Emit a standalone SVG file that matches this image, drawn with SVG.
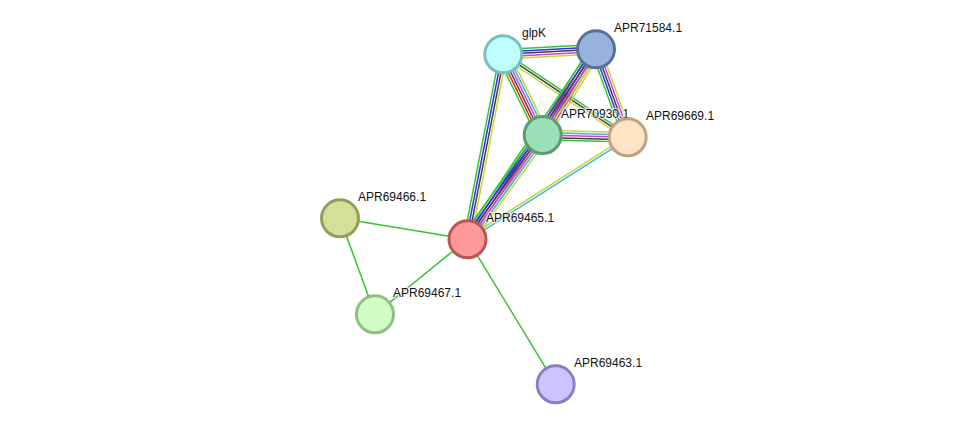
<svg xmlns="http://www.w3.org/2000/svg" width="975" height="430" viewBox="0 0 975 430">
<style>
line{stroke-width:1.5;fill:none}
.g{stroke:#35c435}.r{stroke:#ee2222}.b{stroke:#2f2ff0}.k{stroke:#404040}.m{stroke:#d43fd4}.c{stroke:#3fb6df}.y{stroke:#c3d83c}
.node circle{stroke-width:3}
text{font-family:"Liberation Sans",Arial,sans-serif;font-size:12px;fill:#111;stroke:#fff;stroke-width:2.5;stroke-opacity:0.7;paint-order:stroke;stroke-linejoin:round}
</style>
<rect width="975" height="430" fill="#fff"/>
<g id="connectors">
<g transform="translate(503.3,54.3) rotate(-3.09)">
<line class="g" x1="0" y1="-4.8" x2="92.8" y2="-4.8"/><line class="b" x1="0" y1="-2.4" x2="92.8" y2="-2.4"/><line class="k" x1="0" y1="0" x2="92.8" y2="0"/><line class="m" x1="0" y1="2.4" x2="92.8" y2="2.4"/><line class="y" x1="0" y1="4.8" x2="92.8" y2="4.8"/>
</g>
<g transform="translate(503.3,54.3) rotate(63.97)">
<line class="y" x1="0" y1="-6" x2="89.8" y2="-6"/><line class="c" x1="0" y1="-3.6" x2="89.8" y2="-3.6"/><line class="m" x1="0" y1="-1.2" x2="89.8" y2="-1.2"/><line class="k" x1="0" y1="1.2" x2="89.8" y2="1.2"/><line class="r" x1="0" y1="3.6" x2="89.8" y2="3.6"/><line class="g" x1="0" y1="6" x2="89.8" y2="6"/>
</g>
<g transform="translate(503.3,54.3) rotate(33.71)">
<line class="g" x1="0" y1="-2.4" x2="149.5" y2="-2.4"/><line class="k" x1="0" y1="0" x2="149.5" y2="0"/><line class="y" x1="0" y1="2.4" x2="149.5" y2="2.4"/>
</g>
<g transform="translate(503.3,54.3) rotate(101.01)">
<line class="y" x1="0" y1="-3.6" x2="188.5" y2="-3.6"/><line class="k" x1="0" y1="-1.2" x2="188.5" y2="-1.2"/><line class="b" x1="0" y1="1.2" x2="188.5" y2="1.2"/><line class="g" x1="0" y1="3.6" x2="188.5" y2="3.6"/>
</g>
<g transform="translate(596,49.3) rotate(121.88)">
<line class="y" x1="0" y1="-6" x2="100.9" y2="-6"/><line class="m" x1="0" y1="-3.6" x2="100.9" y2="-3.6"/><line class="k" x1="0" y1="-1.2" x2="100.9" y2="-1.2"/><line class="b" x1="0" y1="1.2" x2="100.9" y2="1.2"/><line class="r" x1="0" y1="3.6" x2="100.9" y2="3.6"/><line class="g" x1="0" y1="6" x2="100.9" y2="6"/>
</g>
<g transform="translate(596,49.3) rotate(70.19)">
<line class="y" x1="0" y1="-4.8" x2="93.5" y2="-4.8"/><line class="m" x1="0" y1="-2.4" x2="93.5" y2="-2.4"/><line class="k" x1="0" y1="0" x2="93.5" y2="0"/><line class="b" x1="0" y1="2.4" x2="93.5" y2="2.4"/><line class="g" x1="0" y1="4.8" x2="93.5" y2="4.8"/>
</g>
<g transform="translate(596,49.3) rotate(124.11)">
<line class="y" x1="0" y1="-4.8" x2="229.5" y2="-4.8"/><line class="m" x1="0" y1="-2.4" x2="229.5" y2="-2.4"/><line class="k" x1="0" y1="0" x2="229.5" y2="0"/><line class="b" x1="0" y1="2.4" x2="229.5" y2="2.4"/><line class="g" x1="0" y1="4.8" x2="229.5" y2="4.8"/>
</g>
<g transform="translate(542.7,135) rotate(1.55)">
<line class="y" x1="0" y1="-4.8" x2="85" y2="-4.8"/><line class="c" x1="0" y1="-2.4" x2="85" y2="-2.4"/><line class="m" x1="0" y1="0" x2="85" y2="0"/><line class="k" x1="0" y1="2.4" x2="85" y2="2.4"/><line class="g" x1="0" y1="4.8" x2="85" y2="4.8"/>
</g>
<g transform="translate(542.7,135) rotate(125.87)">
<line class="y" x1="0" y1="-6" x2="128.7" y2="-6"/><line class="c" x1="0" y1="-3.6" x2="128.7" y2="-3.6"/><line class="m" x1="0" y1="-1.2" x2="128.7" y2="-1.2"/><line class="k" x1="0" y1="1.2" x2="128.7" y2="1.2"/><line class="b" x1="0" y1="3.6" x2="128.7" y2="3.6"/><line class="g" x1="0" y1="6" x2="128.7" y2="6"/>
</g>
<g transform="translate(627.7,137.3) rotate(147.55)">
<line class="c" x1="0" y1="-1.2" x2="190.1" y2="-1.2"/><line class="y" x1="0" y1="1.2" x2="190.1" y2="1.2"/>
</g>
<line class="g" x1="340" y1="218.3" x2="467.5" y2="239.3"/>
<line class="g" x1="340" y1="218.3" x2="375" y2="314.3"/>
<line class="g" x1="375" y1="314.3" x2="467.5" y2="239.3"/>
<line class="g" x1="467.5" y1="239.3" x2="555.7" y2="384.3"/>
</g>
<g id="node-glpK" class="node"><circle cx="503.3" cy="54.3" r="18.5" fill="#bfffff" stroke="#7bbcbc"/><text x="522" y="37">glpK</text></g>
<g id="node-APR71584.1" class="node"><circle cx="596" cy="49.3" r="18.5" fill="#98b2de" stroke="#5a6f9b"/><text x="614" y="32">APR71584.1</text></g>
<g id="node-APR70930.1" class="node"><circle cx="542.7" cy="135" r="18.5" fill="#9bdfb7" stroke="#5b9c74"/><text x="561" y="118">APR70930.1</text></g>
<g id="node-APR69669.1" class="node"><circle cx="627.7" cy="137.3" r="18.5" fill="#fee4c4" stroke="#bca47f"/><text x="646" y="120">APR69669.1</text></g>
<g id="node-APR69466.1" class="node"><circle cx="340" cy="218.3" r="18.5" fill="#d4e09a" stroke="#949e5a"/><text x="358" y="201">APR69466.1</text></g>
<g id="node-APR69465.1" class="node"><circle cx="467.5" cy="239.3" r="18.5" fill="#ff9898" stroke="#bb5656"/><text x="486" y="222">APR69465.1</text></g>
<g id="node-APR69467.1" class="node"><circle cx="375" cy="314.3" r="18.5" fill="#cfffc4" stroke="#8fbf85"/><text x="393" y="297">APR69467.1</text></g>
<g id="node-APR69463.1" class="node"><circle cx="555.7" cy="384.3" r="18.5" fill="#cbc4ff" stroke="#8a80c1"/><text x="574" y="367">APR69463.1</text></g>
</svg>
